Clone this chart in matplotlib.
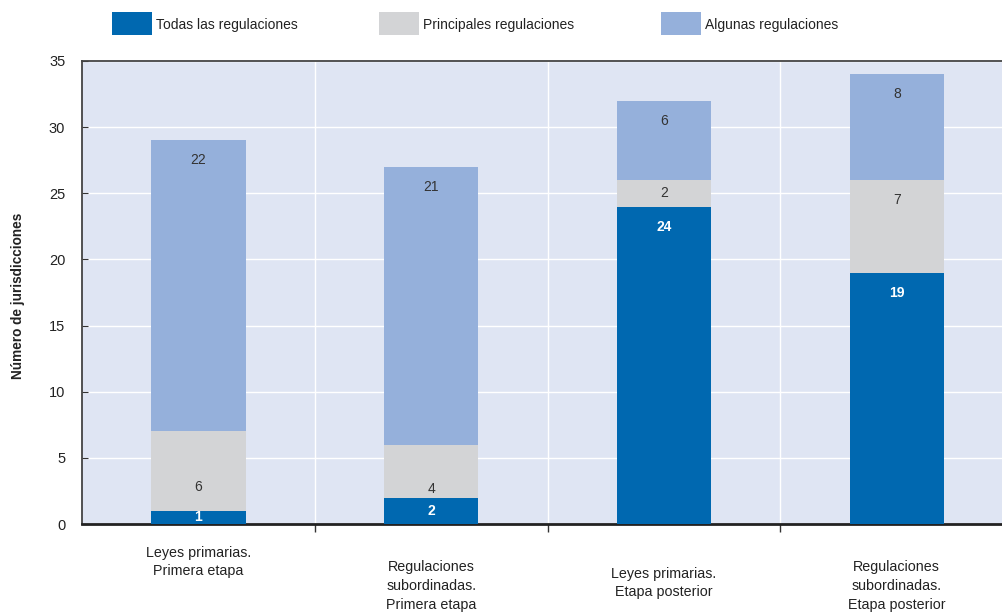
import matplotlib.pyplot as plt
from matplotlib.patches import Rectangle

# data
categories = ['Leyes primarias.\nPrimera etapa',
              'Regulaciones\nsubordinadas.\nPrimera etapa',
              'Leyes primarias.\nEtapa posterior',
              'Regulaciones\nsubordinadas.\nEtapa posterior']
series_names = ['Todas las regulaciones', 'Principales regulaciones', 'Algunas regulaciones']
todas = [1, 2, 24, 19]
principales = [6, 4, 2, 7]
algunas = [22, 21, 6, 8]

colors = ['#0068b0', '#d3d4d6', '#95b0db']
bg = '#dfe5f3'
regular = ['Liberation Sans', 'DejaVu Sans']

fig = plt.figure(figsize=(10.03, 6.13), dpi=100)
ax = fig.add_axes([82 / 1003, 1 - 524 / 613, 1 - 82 / 1003 + 0.002, (524 - 61) / 613])
ax.set_facecolor(bg)

x = list(range(len(categories)))
width = 0.405
series = [todas, principales, algunas]
bottoms = [0] * len(x)
bar_sets = []
for vals, col in zip(series, colors):
    bars = ax.bar(x, vals, width, bottom=bottoms, color=col, zorder=3)
    bar_sets.append((bars, vals, list(bottoms)))
    bottoms = [b + v for b, v in zip(bottoms, vals)]

ax.set_xlim(-0.5, 3.465)
ax.set_ylim(0, 35)
ax.set_yticks(range(0, 36, 5))
ax.yaxis.grid(True, color='white', linewidth=1, zorder=0)
ax.set_xticks([0.5, 1.5, 2.5], minor=True)
ax.set_xticks(x)
ax.set_xticklabels([])
ax.xaxis.grid(True, which='minor', color='white', linewidth=1, zorder=0)
ax.tick_params(axis='x', which='major', length=0)
ax.tick_params(axis='x', which='minor', length=6, direction='out', color='#333333', width=1)
ax.tick_params(axis='y', direction='in', length=4, color='#333333', pad=12, labelsize=10.5)
for lab in ax.get_yticklabels():
    lab.set_family(regular)
    lab.set_color('#222222')
ax.set_axisbelow(True)

for side in ['left', 'top']:
    ax.spines[side].set_color('#444444')
    ax.spines[side].set_linewidth(1.3)
ax.spines['bottom'].set_color('#222222')
ax.spines['bottom'].set_linewidth(2)
ax.spines['right'].set_visible(False)

# value labels: pixel offset of label centre below segment top (None = centre)
offsets = [
    [None, None, 20, 20],   # todas
    [56, 44, None, 20],     # principales
    [20, 20, 20, 20],       # algunas
]
for s, (bars, vals, bots) in enumerate(bar_sets):
    for i, b in enumerate(bars):
        top = bots[i] + vals[i]
        off = offsets[s][i]
        if off is None:
            xy = (b.get_x() + b.get_width() / 2, bots[i] + vals[i] / 2)
            dy = 0
        else:
            xy = (b.get_x() + b.get_width() / 2, top)
            dy = -off
        if s == 0:
            kw = dict(color='white', fontweight='bold')
        else:
            kw = dict(color='#333333')
        ax.annotate(str(vals[i]), xy, xytext=(0, dy), textcoords='offset pixels',
                    ha='center', va='center', fontsize=10, family=regular, zorder=5, **kw)

# category labels
label_y = [562, 586, 583, 586]
for i, (cat, ly) in enumerate(zip(categories, label_y)):
    ax.annotate(cat, (i, 0), xycoords=('data', 'axes fraction'),
                xytext=(0, -(ly - 524)), textcoords='offset pixels',
                ha='center', va='center', fontsize=10.3, family=regular,
                linespacing=1.45, color='#222222', annotation_clip=False)

fig.text(18 / 1003, 1 - 296 / 613, 'Número de jurisdicciones', rotation=90,
         ha='center', va='center', fontsize=9.8, fontweight='bold', family=regular, color='#222222')

# legend drawn by hand to match the spacing of the original
legend_x = [112, 379, 661]
for name, col, lx in zip(series_names, colors, legend_x):
    fig.add_artist(Rectangle((lx / 1003, 1 - 35 / 613), 40 / 1003, 23 / 613,
                             transform=fig.transFigure, facecolor=col, edgecolor='none'))
    fig.text((lx + 44) / 1003, 1 - 25 / 613, name, ha='left', va='center',
             fontsize=10, family=regular, color='#222222')

plt.savefig('out.png', dpi=100)
